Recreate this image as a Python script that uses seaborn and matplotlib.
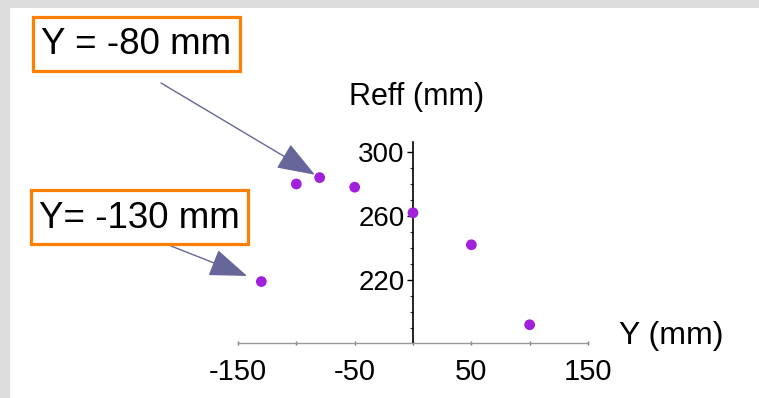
import matplotlib
matplotlib.use('Agg')
import matplotlib.pyplot as plt
import matplotlib.patches as patches
from matplotlib.ticker import MultipleLocator
import seaborn as sns

# data
y_pos = [-130, -100, -80, -50, 0, 50, 100]       # Y (mm)
reff = [219, 280, 284, 278, 262, 242, 192]       # Reff (mm)
x_ticks = [-150, -50, 50, 150]
y_ticks = [220, 260, 300]
notes = ['Y = -80 mm', 'Y= -130 mm']
note_targets = [2, 0]   # index of the point each note points to

sns.set_style('white')
plt.rcParams['font.family'] = ['Liberation Sans', 'DejaVu Sans']
plt.rcParams['text.color'] = 'black'

W, H = 759, 398
fig = plt.figure(figsize=(W / 100, H / 100), dpi=100)
fig.patch.set_facecolor('#dcdcdc')


def px(x, y):
    # pixel position (from top-left) -> figure fraction
    return x / W, 1 - y / H


# white page inside the grey border
fig.add_artist(patches.Rectangle((10 / W, 0), 1, 1 - 8 / H, transform=fig.transFigure,
                                 facecolor='white', edgecolor='none', zorder=0))

ax = fig.add_axes([238 / W, 55 / H, 350 / W, 201 / H])
ax.set_facecolor('none')
sns.scatterplot(x=y_pos, y=reff, ax=ax, color='#a020dc', s=60, edgecolor='none', zorder=3)

ax.set_xlim(-150, 150)
ax.set_ylim(180.6, 306.25)
for s in ['top', 'right']:
    ax.spines[s].set_visible(False)
ax.spines['left'].set_position(('data', 0))
ax.spines['left'].set_color('black')
ax.spines['left'].set_linewidth(1.2)
ax.spines['bottom'].set_color('#999999')
ax.spines['bottom'].set_linewidth(1)

ax.set_xticks(x_ticks)
ax.set_xticklabels([str(t) for t in x_ticks], fontsize=21, color='black')
ax.xaxis.set_minor_locator(MultipleLocator(50))
ax.set_yticks(y_ticks)
ax.set_yticklabels([str(t) for t in y_ticks], fontsize=20, color='black')
ax.yaxis.set_minor_locator(MultipleLocator(10))
ax.tick_params(axis='x', which='both', bottom=True, length=3, width=1, color='#777777',
               direction='inout', pad=9)
ax.tick_params(axis='y', which='major', left=True, length=4, width=1, color='black',
               direction='out', pad=2)
ax.tick_params(axis='y', which='minor', left=True, length=2.5, width=0.8, color='#333333',
               direction='out')

# axis labels as in the picture
fig.text(*px(417, 97), 'Reff (mm)', fontsize=22, ha='center', va='center')
fig.text(*px(671, 336), 'Y (mm)', fontsize=23, ha='center', va='center')

# orange boxed notes with arrows
boxes = [(33, 17, 207, 54), (31, 190, 217, 54)]
starts = [(161, 83), (171, 246)]
shrinks = [4, 11]
for note, (bx, by, bw, bh), (sx, sy), idx, sh in zip(notes, boxes, starts, note_targets, shrinks):
    x0, y0 = px(bx, by + bh)
    fig.add_artist(patches.Rectangle((x0, y0), bw / W, bh / H, transform=fig.transFigure,
                                     facecolor='white', edgecolor='#ff8000', linewidth=2.3, zorder=4))
    fig.text(*px(bx + bw / 2, by + bh / 2 + 1), note, fontsize=26.5,
             ha='center', va='center', zorder=5)
    ax.annotate('', xy=(y_pos[idx], reff[idx]), xycoords='data',
                xytext=(sx, H - sy), textcoords='figure pixels',
                arrowprops=dict(arrowstyle='-|>,head_length=1.5,head_width=0.55',
                                mutation_scale=16, color='#66669a', lw=1,
                                shrinkA=0, shrinkB=sh),
                annotation_clip=False)

fig.savefig('out.png', dpi=100, facecolor=fig.get_facecolor())
